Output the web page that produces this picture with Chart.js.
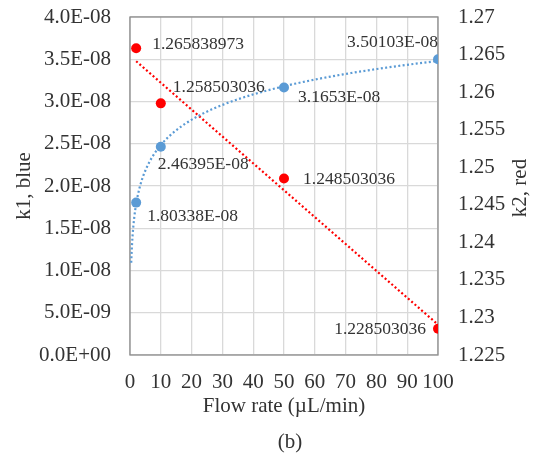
<!DOCTYPE html>
<html lang="en">
<head>
<meta charset="UTF-8">
<title>k1 / k2 vs flow rate</title>
<script src="https://cdn.jsdelivr.net/npm/chart.js@4.4.0/dist/chart.umd.min.js"></script>
<style>
  html, body { margin: 0; padding: 0; background: #fff; }
</style>
</head>
<body>
<canvas id="chart" width="537" height="458"></canvas>
<script>
var flowRate = [2, 10, 50, 100]
var k1Blue = [1.80338e-8, 2.46395e-8, 3.1653e-8, 3.50103e-8]
var k2Red = [1.265838973, 1.258503036, 1.248503036, 1.228503036]

var xTicks = [0, 10, 20, 30, 40, 50, 60, 70, 80, 90, 100]
var k1Ticks = [0, 5e-9, 1e-8, 1.5e-8, 2e-8, 2.5e-8, 3e-8, 3.5e-8, 4e-8]
var k2Ticks = [1.225, 1.23, 1.235, 1.24, 1.245, 1.25, 1.255, 1.26, 1.265, 1.27]

var FONT = '"Liberation Serif", "Times New Roman", serif'
var TEXT = '#333333'
var BLUE = '#5b9bd5'
var RED = '#ff0000'

// "4.0E-08" style, like the excel axis
function sci(v, digits) {
    var s = digits === undefined ? Number(v).toExponential() : Number(v).toExponential(digits)
    var parts = s.split('e')
    var exp = parseInt(parts[1], 10)
    var e = Math.abs(exp)
    return parts[0] + 'E' + (exp < 0 ? '-' : '+') + (e < 10 ? '0' + e : e)
}

// excel trendlines: least squares on the measured points
function fit(xs, ys) {
    var n = xs.length, mx = 0, my = 0
    for (var i = 0; i < n; i++) { mx += xs[i] / n; my += ys[i] / n }
    var sxx = 0, sxy = 0
    for (var i = 0; i < n; i++) {
        sxx += (xs[i] - mx) * (xs[i] - mx)
        sxy += (xs[i] - mx) * (ys[i] - my)
    }
    var a = sxy / sxx
    return { a: a, b: my - a * mx }
}

var logFit = fit(flowRate.map(Math.log), k1Blue)
var linFit = fit(flowRate, k2Red)

var blueTrend = []
var x0 = 0.4, x1 = 100, steps = 150
for (var i = 0; i <= steps; i++) {
    var x = x0 * Math.pow(x1 / x0, i / steps)
    blueTrend.push({ x: x, y: logFit.a * Math.log(x) + logFit.b })
}
var redTrend = [
    { x: flowRate[0], y: linFit.a * flowRate[0] + linFit.b },
    { x: flowRate[3], y: linFit.a * flowRate[3] + linFit.b }
]

function pts(xs, ys) {
    return xs.map(function (x, i) { return { x: x, y: ys[i] } })
}

// where each value label sits relative to its point: [dx, dy, align]
var blueLabelPos = [[11, 14, 'left'], [-3, 18, 'left'], [14, 10, 'left'], [0, -17, 'right']]
var redLabelPos = [[16, -4, 'left'], [12, -16, 'left'], [19, 1, 'left'], [-12, 1, 'right']]

var valueLabels = {
    id: 'valueLabels',
    afterDatasetsDraw: function (chart, args, opts) {
        var ctx = chart.ctx
        ctx.save()
        ctx.font = '17.5px ' + FONT
        ctx.fillStyle = TEXT
        ctx.textBaseline = 'middle'
        opts.sets.forEach(function (s) {
            chart.getDatasetMeta(s.index).data.forEach(function (p, i) {
                var o = s.pos[i]
                ctx.textAlign = o[2]
                ctx.fillText(s.text[i], p.x + o[0], p.y + o[1])
            })
        })
        ctx.restore()
    }
}

var frame = {
    id: 'frame',
    beforeDatasetsDraw: function (chart) {
        var a = chart.chartArea, ctx = chart.ctx
        ctx.save()
        ctx.strokeStyle = '#8c8c8c'
        ctx.lineWidth = 1.3
        ctx.strokeRect(a.left, a.top, a.right - a.left, a.bottom - a.top)
        ctx.restore()
    },
    afterDraw: function (chart) {
        var ctx = chart.ctx
        ctx.save()
        ctx.fillStyle = TEXT
        ctx.font = '21px ' + FONT
        ctx.textAlign = 'center'
        ctx.textBaseline = 'middle'
        // right axis title reads bottom-to-top in the figure
        ctx.translate(520, 188)
        ctx.rotate(-Math.PI / 2)
        ctx.fillText('k2, red', 0, 0)
        ctx.restore()
        ctx.save()
        ctx.fillStyle = TEXT
        ctx.font = '21px ' + FONT
        ctx.textAlign = 'center'
        ctx.textBaseline = 'middle'
        ctx.fillText('(b)', 290, 442)
        ctx.restore()
    }
}

var tickFont = { family: FONT, size: 21 }

function fixWidth(w) {
    return function (s) { s.width = w; s.paddingTop = 0; s.paddingBottom = 0 }
}

new Chart(document.getElementById('chart'), {
    type: 'scatter',
    data: {
        datasets: [
            { label: 'k1', data: pts(flowRate, k1Blue), yAxisID: 'y', order: 0,
              backgroundColor: BLUE, borderColor: BLUE, pointRadius: 5, pointBorderWidth: 0 },
            { label: 'k2', data: pts(flowRate, k2Red), yAxisID: 'y1', order: 0,
              backgroundColor: RED, borderColor: RED, pointRadius: 5, pointBorderWidth: 0 },
            { label: 'k1 trend', data: blueTrend, yAxisID: 'y', order: 1, showLine: true,
              borderColor: BLUE, borderWidth: 2.2, borderDash: [2, 2.4], pointRadius: 0, tension: 0 },
            { label: 'k2 trend', data: redTrend, yAxisID: 'y1', order: 1, showLine: true,
              borderColor: RED, borderWidth: 2.2, borderDash: [2, 2.4], pointRadius: 0 }
        ]
    },
    options: {
        responsive: false,
        animation: false,
        layout: { padding: { left: 0, right: 0, top: 17, bottom: 38 } },
        plugins: {
            legend: { display: false },
            tooltip: { enabled: false },
            valueLabels: {
                sets: [
                    { index: 0, pos: blueLabelPos, text: k1Blue.map(function (v) { return sci(v) }) },
                    { index: 1, pos: redLabelPos, text: k2Red.map(String) }
                ]
            }
        },
        scales: {
            x: {
                type: 'linear', position: 'bottom', min: 0, max: 100,
                afterBuildTicks: function (s) { s.ticks = xTicks.map(function (v) { return { value: v } }) },
                afterFit: function (s) { s.height = 65; s.paddingLeft = 0; s.paddingRight = 0 },
                grid: { color: '#d9d9d9', lineWidth: 1.3, drawTicks: false },
                border: { display: false },
                ticks: { font: tickFont, color: TEXT, padding: 15, maxRotation: 0, autoSkip: false },
                title: { display: true, text: 'Flow rate (µL/min)', font: tickFont, color: TEXT, padding: { top: 0, bottom: 1 } }
            },
            y: {
                position: 'left', min: 0, max: 4e-8,
                afterBuildTicks: function (s) { s.ticks = k1Ticks.map(function (v) { return { value: v } }) },
                afterFit: fixWidth(130),
                grid: { color: '#d9d9d9', lineWidth: 1.3, drawTicks: false },
                border: { display: false },
                ticks: { font: tickFont, color: TEXT, padding: 19, callback: function (v) { return sci(v, 1) } },
                title: { display: true, text: 'k1, blue', font: tickFont, color: TEXT, padding: { top: 12, bottom: 0 } }
            },
            y1: {
                position: 'right', min: 1.225, max: 1.27,
                afterBuildTicks: function (s) { s.ticks = k2Ticks.map(function (v) { return { value: v } }) },
                afterFit: fixWidth(99),
                grid: { display: false, drawTicks: false },
                border: { display: false },
                ticks: { font: tickFont, color: TEXT, padding: 20, callback: function (v) { return String(Math.round(v * 1000) / 1000) } }
            }
        }
    },
    plugins: [frame, valueLabels]
})
</script>
</body>
</html>
